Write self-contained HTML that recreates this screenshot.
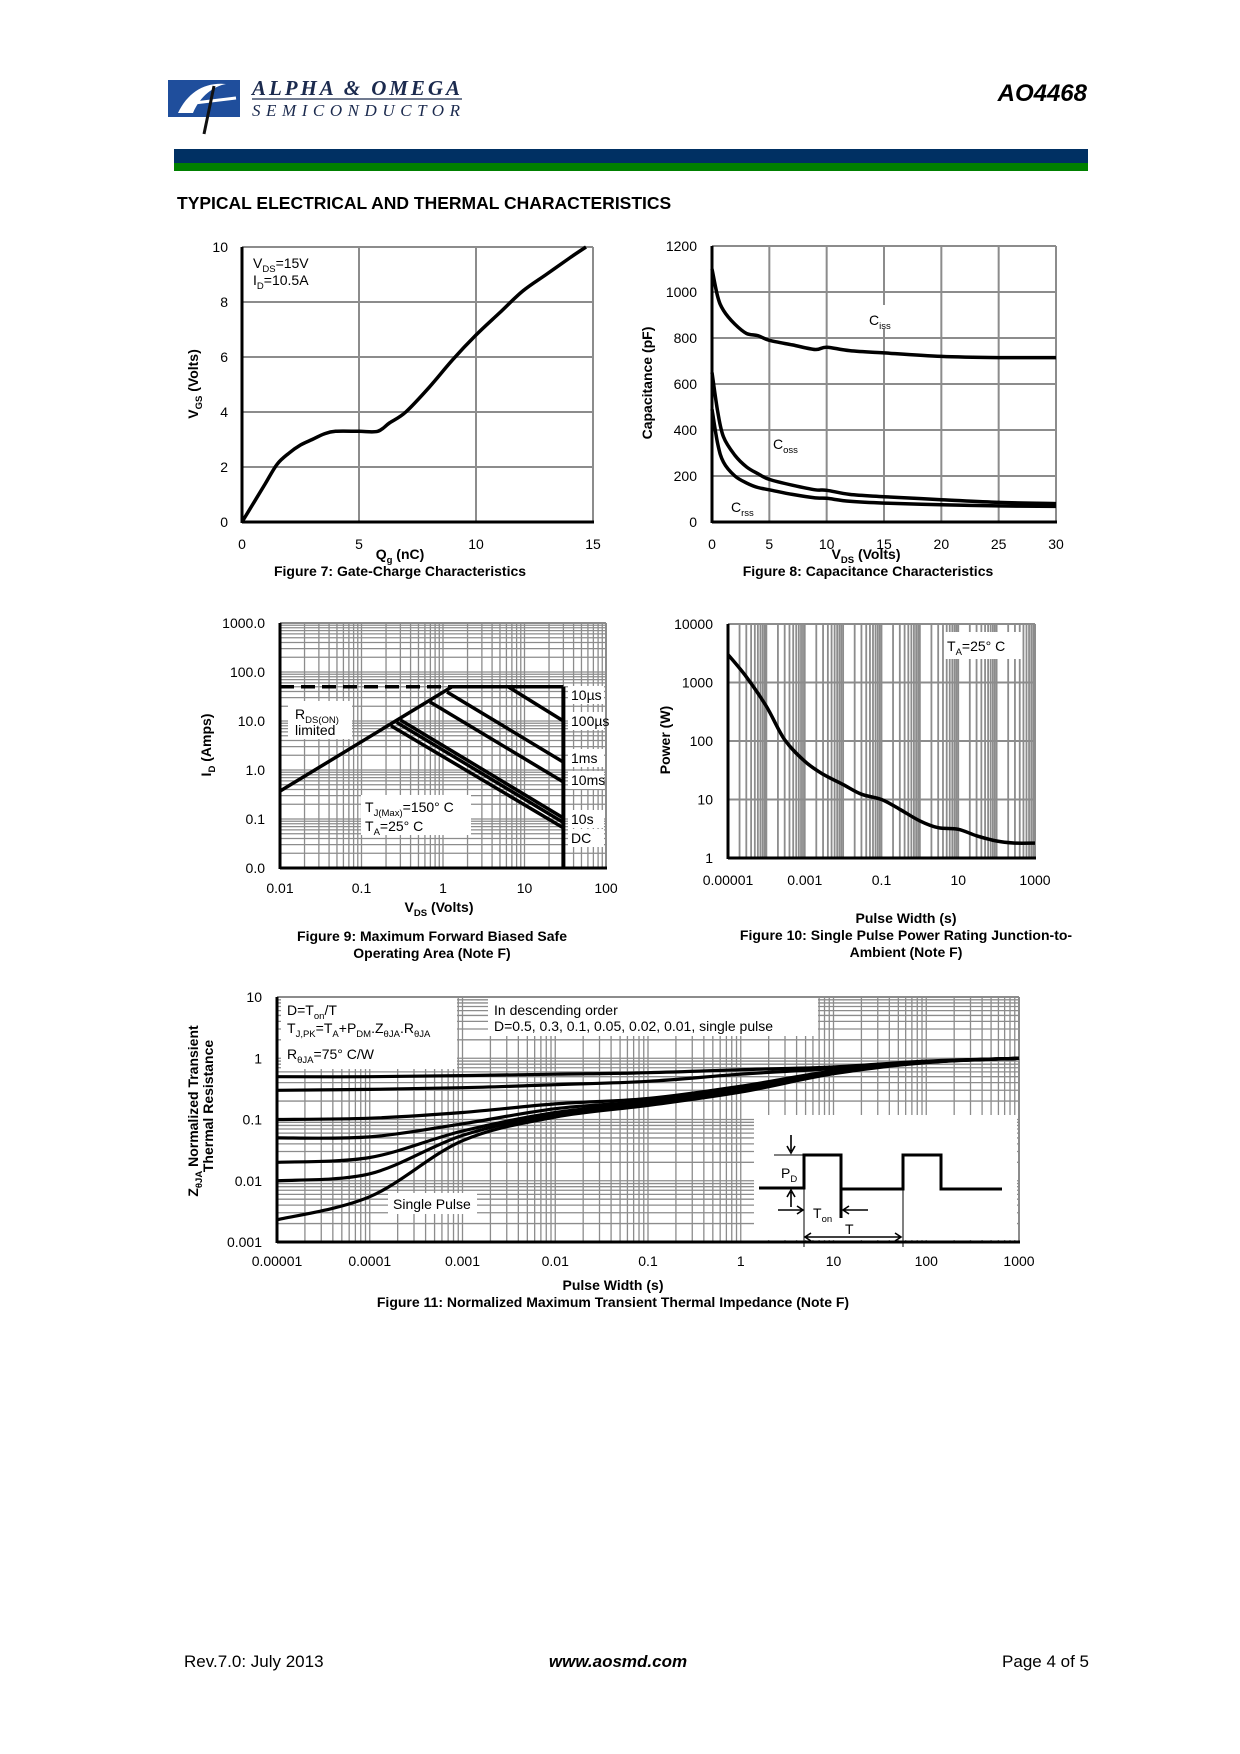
<!DOCTYPE html>
<html><head><meta charset="utf-8"><style>
html,body{margin:0;padding:0;background:#fff;}
body{width:1240px;height:1754px;position:relative;overflow:hidden;font-family:"Liberation Sans",sans-serif;}
svg{position:absolute;left:0;top:0;}
</style></head><body>
<svg id="chart" width="1240" height="1754" viewBox="0 0 1240 1754" font-family="Liberation Sans, sans-serif">
<g>
<rect x="168" y="80" width="72" height="37" fill="#1f4e9c"/>
<path d="M178 113 C188 92 205 82 226 84 C214 86 200 96 193 113 Z" fill="#fff"/>
<path d="M186 104 L236 98" stroke="#fff" stroke-width="3"/>
<path d="M214 86 L204 134" stroke="#111" stroke-width="3"/>
<text x="252" y="95" font-family="Liberation Serif, serif" font-style="italic" font-weight="bold" font-size="21" fill="#1b2a4e" textLength="208">ALPHA &amp; OMEGA</text>
<line x1="252" y1="99" x2="462" y2="99" stroke="#1b2a4e" stroke-width="1.2"/>
<text x="252" y="116" font-family="Liberation Serif, serif" font-style="italic" font-size="17" fill="#1b2a4e" textLength="208">SEMICONDUCTOR</text>
</g>
<text x="1087" y="101" text-anchor="end" font-weight="bold" font-style="italic" font-size="24">AO4468</text>
<rect x="174" y="149" width="914" height="14" fill="#003063"/>
<rect x="174" y="163" width="914" height="8" fill="#008000"/>
<text x="177" y="209" font-weight="bold" font-size="17.5">TYPICAL ELECTRICAL AND THERMAL CHARACTERISTICS</text>
<text x="184" y="1667" font-size="17">Rev.7.0: July 2013</text>
<text x="618" y="1667" font-size="17" text-anchor="middle" font-weight="bold" font-style="italic">www.aosmd.com</text>
<text x="1089" y="1667" font-size="17" text-anchor="end">Page 4 of 5</text>
</svg>
<script>
// ---------- Figure 7 data ----------
const gcQg=[0,0.5,1,1.5,2,2.5,3,3.5,4,5,5.8,6.3,7,8,9,10,11,12,13,14,14.7];
const gcVgs=[0,0.7,1.4,2.1,2.5,2.8,3.0,3.2,3.3,3.3,3.3,3.6,4.0,4.9,5.9,6.8,7.6,8.4,9.0,9.6,10];
const gcXTicks=[0,5,10,15];
const gcYTicks=[0,2,4,6,8,10];
// ---------- Figure 8 data ----------
const capV=[0,0.5,1,2,3,4,5,7,9,10,12,15,20,25,30];
const capCiss=[1100,980,920,860,820,810,790,770,750,760,745,735,720,715,715];
const capCoss=[650,480,370,290,240,210,185,160,140,138,120,110,97,85,80];
const capCrss=[490,340,260,200,170,150,140,120,105,103,90,82,75,70,68];
const capXTicks=[0,5,10,15,20,25,30];
const capYTicks=[0,200,400,600,800,1000,1200];
// ---------- Figure 9 data ----------
const soaLabels=['10µs','100µs','1ms','10ms','10s','DC'];
const soaStartV=[6.3,1.12,0.69,0.30,0.27,0.23];
const soaStartI=[50,39,24.5,10.5,9.4,8];
const soaEndV=[30,30,30,30,30,30];
const soaEndI=[10,1.45,0.57,0.105,0.085,0.066];
const soaRdsV=[0.01,1.29];
const soaRdsI=[0.37,50];
const soaLimitI=[50];
const soaVmax=[30];
const soaXTicks=[0.01,0.1,1,10,100];
const soaXTickLabels=['0.01','0.1','1','10','100'];
const soaYTicks=[0.01,0.1,1,10,100,1000];
const soaYTickLabels=['0.0','0.1','1.0','10.0','100.0','1000.0'];
// ---------- Figure 10 data ----------
const pwT=[1e-5,3e-5,1e-4,3e-4,1e-3,3e-3,1e-2,3e-2,0.1,0.3,1,3,10,30,100,300,1000];
const pwP=[3000,1250,390,105,45,27,18,12.3,10,6.8,4.3,3.3,3.1,2.4,1.95,1.8,1.8];
const pwXTicks=[1e-5,1e-3,1e-1,10,1000];
const pwXTickLabels=['0.00001','0.001','0.1','10','1000'];
const pwYTicks=[1,10,100,1000,10000];
const pwYTickLabels=['1','10','100','1000','10000'];
// ---------- Figure 11 data ----------
const ztT=[1e-5,1e-4,1e-3,1e-2,0.1,1,10,100,1000];
const ztD05=[0.5,0.5,0.52,0.55,0.58,0.65,0.72,0.9,1.0];
const ztD03=[0.3,0.31,0.33,0.37,0.42,0.55,0.68,0.88,1.0];
const ztD01=[0.1,0.105,0.13,0.18,0.22,0.35,0.62,0.87,1.0];
const ztD005=[0.05,0.052,0.085,0.15,0.2,0.32,0.6,0.86,1.0];
const ztD002=[0.02,0.024,0.065,0.13,0.19,0.3,0.58,0.86,1.0];
const ztD001=[0.01,0.013,0.055,0.12,0.18,0.29,0.57,0.86,1.0];
const ztSingle=[0.0023,0.0055,0.045,0.11,0.17,0.28,0.56,0.85,1.0];
const ztXTicks=[1e-5,1e-4,1e-3,1e-2,0.1,1,10,100,1000];
const ztXTickLabels=['0.00001','0.0001','0.001','0.01','0.1','1','10','100','1000'];
const ztYTicks=[0.001,0.01,0.1,1,10];
const ztYTickLabels=['0.001','0.01','0.1','1','10'];

const NS='http://www.w3.org/2000/svg';
const svg=document.getElementById('chart');
function mk(tag,attrs,parent){const e=document.createElementNS(NS,tag);for(const k in attrs)e.setAttribute(k,attrs[k]);(parent||svg).appendChild(e);return e;}
function lin(d0,d1,p0,p1){return v=>p0+(v-d0)/(d1-d0)*(p1-p0);}
function lg(d0,d1,p0,p1){const a=Math.log10(d0),b=Math.log10(d1);return v=>p0+(Math.log10(v)-a)/(b-a)*(p1-p0);}
function smooth(pts){let d='M'+pts[0][0].toFixed(1)+' '+pts[0][1].toFixed(1);for(let i=0;i<pts.length-1;i++){const p0=pts[Math.max(0,i-1)],p1=pts[i],p2=pts[i+1],p3=pts[Math.min(pts.length-1,i+2)];const c1=[p1[0]+(p2[0]-p0[0])/6,p1[1]+(p2[1]-p0[1])/6],c2=[p2[0]-(p3[0]-p1[0])/6,p2[1]-(p3[1]-p1[1])/6];d+=' C'+c1[0].toFixed(1)+' '+c1[1].toFixed(1)+' '+c2[0].toFixed(1)+' '+c2[1].toFixed(1)+' '+p2[0].toFixed(1)+' '+p2[1].toFixed(1);}return d;}
function txt(g,x,y,s,size,anchor,weight){const t=mk('text',{x:x,y:y,'font-size':size||13,'text-anchor':anchor||'start','font-weight':weight||'normal'},g);t.textContent=s;return t;}
function rich(g,x,y,parts,size,anchor,weight){const t=mk('text',{x:x,y:y,'font-size':size,'text-anchor':anchor||'start','font-weight':weight||'normal'},g);parts.forEach(p=>{const s=mk('tspan',{},t);if(p[1]){s.setAttribute('dy',p[1]);}if(p[1]>0){s.setAttribute('font-size',size*0.68);}else{s.setAttribute('font-size',size);}s.textContent=p[0];});return t;}
function vlabel(g,x,y,parts,size){const t=rich(g,0,0,parts,size,'middle','bold');t.setAttribute('transform','translate('+x+','+y+') rotate(-90)');return t;}
function logGrid(g,xs,ys,x0,x1,y0,y1,xd,yd,xMinor,yMinor,w,yw){
  for(let e=xd[0];e<xd[1];e++){for(let k=1;k<=9;k++){if(!xMinor&&k>1)continue;const x=xs(k*Math.pow(10,e));mk('line',{x1:x,y1:y0,x2:x,y2:y1,stroke:'#8c8c8c','stroke-width':w},g);}}
  for(let e=yd[0];e<yd[1];e++){for(let k=1;k<=9;k++){if(!yMinor&&k>1)continue;const y=ys(k*Math.pow(10,e));mk('line',{x1:x0,y1:y,x2:x1,y2:y,stroke:'#8c8c8c','stroke-width':yw||w},g);}}
  mk('line',{x1:x1,y1:y0,x2:x1,y2:y1,stroke:'#8c8c8c','stroke-width':2},g);
  mk('line',{x1:x0,y1:y1,x2:x1,y2:y1,stroke:'#8c8c8c','stroke-width':2},g);
}
function axes(g,x0,x1,y0,y1){mk('line',{x1:x0,y1:y0+1,x2:x0,y2:y1,stroke:'#000','stroke-width':3},g);mk('line',{x1:x0,y1:y0,x2:x1+1,y2:y0,stroke:'#000','stroke-width':3},g);}
function whiteBox(g,x,y,w,h,name){const r=mk('rect',{x:x,y:y,width:w,height:h,fill:'#fff'},g);return r;}

// ===== Figure 7 =====
(function(){
const g=mk('g',{});


const X0=242,X1=593,Y0=522,Y1=247;
const xs=lin(0,15,X0,X1),ys=lin(0,10,Y0,Y1);
gcXTicks.forEach(v=>{mk('line',{x1:xs(v),y1:Y0,x2:xs(v),y2:Y1,stroke:'#8c8c8c','stroke-width':2},g);const t=txt(g,xs(v),549,String(v),14,'middle');});
gcYTicks.forEach(v=>{mk('line',{x1:X0,y1:ys(v),x2:X1,y2:ys(v),stroke:'#8c8c8c','stroke-width':2},g);const t=txt(g,228,ys(v)+5,String(v),14,'end');});
axes(g,X0,X1,Y0,Y1);
const p=mk('path',{d:smooth(gcQg.map((q,i)=>[xs(q),ys(gcVgs[i])])),fill:'none',stroke:'#000','stroke-width':3.5},g);


const a=rich(g,253,268,[['V'],['DS',4],['=15V',-4]],14);
const b=rich(g,253,285,[['I'],['D',4],['=10.5A',-4]],14);
const xl=rich(g,400,559,[['Q'],['g',4],[' (nC)',-4]],14,'middle','bold');
const yl=vlabel(g,198,384,[['V'],['GS',4],[' (Volts)',-4]],14);
const c=txt(g,400,576,'Figure 7: Gate-Charge Characteristics',14,'middle','bold');
})();

// ===== Figure 8 =====
(function(){
const g=mk('g',{});


const X0=712,X1=1056,Y0=522,Y1=246;
const xs=lin(0,30,X0,X1),ys=lin(0,1200,Y0,Y1);
capXTicks.forEach(v=>{mk('line',{x1:xs(v),y1:Y0,x2:xs(v),y2:Y1,stroke:'#8c8c8c','stroke-width':2},g);const t=txt(g,xs(v),549,String(v),14,'middle');});
capYTicks.forEach(v=>{mk('line',{x1:X0,y1:ys(v),x2:X1,y2:ys(v),stroke:'#8c8c8c','stroke-width':2},g);const t=txt(g,697,ys(v)+5,String(v),14,'end');});
axes(g,X0,X1,Y0,Y1);
const p1=mk('path',{d:smooth(capV.map((v,i)=>[xs(v),ys(capCiss[i])])),fill:'none',stroke:'#000','stroke-width':3.5},g);


const p2=mk('path',{d:smooth(capV.map((v,i)=>[xs(v),ys(capCoss[i])])),fill:'none',stroke:'#000','stroke-width':3.5},g);


const p3=mk('path',{d:smooth(capV.map((v,i)=>[xs(v),ys(capCrss[i])])),fill:'none',stroke:'#000','stroke-width':3.5},g);


whiteBox(g,866,305,26,24,'ciss-label-bg');
const l1=rich(g,869,325,[['C'],['iss',4]],14);
const l2=rich(g,773,449,[['C'],['oss',4]],14);
const l3=rich(g,731,512,[['C'],['rss',4]],14);
const xl=rich(g,866,559,[['V'],['DS',4],[' (Volts)',-4]],14,'middle','bold');
const yl=vlabel(g,652,383,[['Capacitance (pF)']],14);
const c=txt(g,868,576,'Figure 8: Capacitance Characteristics',14,'middle','bold');
})();

// ===== Figure 9 =====
(function(){
const g=mk('g',{});


const X0=280,X1=606,Y0=868,Y1=623;
const xs=lg(0.01,100,X0,X1),ys=lg(0.01,1000,Y0,Y1);
logGrid(g,xs,ys,X0,X1,Y0,Y1,[-2,2],[-2,3],true,true,1.3);
soaXTicks.forEach((v,i)=>{const t=txt(g,xs(v),893,soaXTickLabels[i],14,'middle');});
soaYTicks.forEach((v,i)=>{const t=txt(g,265,ys(v)+5,soaYTickLabels[i],14,'end');});
whiteBox(g,288,701,64,38,'rdson-label-bg');
whiteBox(g,361,795,110,40,'temperature-label-bg');
const lblY=[700,726,763,785,824,843];
soaLabels.forEach((s,i)=>{whiteBox(g,568,lblY[i]-14,36,18,'soa-label-bg');});
axes(g,X0,X1,Y0,Y1);
const lim=mk('line',{x1:xs(0.01),y1:ys(soaLimitI[0]),x2:xs(soaRdsV[1]),y2:ys(soaLimitI[0]),stroke:'#000','stroke-width':3.5,'stroke-dasharray':'14,7'},g);


const top=mk('line',{x1:xs(soaRdsV[1]),y1:ys(soaLimitI[0]),x2:xs(soaVmax[0]),y2:ys(soaLimitI[0]),stroke:'#000','stroke-width':3.5},g);


const vm=mk('line',{x1:xs(soaVmax[0]),y1:ys(soaLimitI[0]),x2:xs(soaVmax[0]),y2:Y0,stroke:'#000','stroke-width':4},g);


const rl=mk('line',{x1:xs(soaRdsV[0]),y1:ys(soaRdsI[0]),x2:xs(soaRdsV[1]),y2:ys(soaRdsI[1]),stroke:'#000','stroke-width':3.5},g);


soaLabels.forEach((s,i)=>{
 const l=mk('line',{x1:xs(soaStartV[i]),y1:ys(soaStartI[i]),x2:xs(soaEndV[i]),y2:ys(soaEndI[i]),stroke:'#000','stroke-width':3.5},g);
 
 
 const t=txt(g,571,lblY[i],s,14);
 
 
});
const r1=rich(g,295,719,[['R'],['DS(ON)',4]],14);
const r2=txt(g,295,735,'limited',14);
const t1=rich(g,365,812,[['T'],['J(Max)',4],['=150° C',-4]],14);
const t2=rich(g,365,831,[['T'],['A',4],['=25° C',-4]],14);
const xl=rich(g,439,912,[['V'],['DS',4],[' (Volts)',-4]],14,'middle','bold');
const yl=vlabel(g,211,745,[['I'],['D',4],[' (Amps)',-4]],14);
const c1=txt(g,432,941,'Figure 9: Maximum Forward Biased Safe',14,'middle','bold');
const c2=txt(g,432,958,'Operating Area (Note F)',14,'middle','bold');
})();

// ===== Figure 10 =====
(function(){
const g=mk('g',{});


const X0=728,X1=1035,Y0=858,Y1=624;
const xs=lg(1e-5,1000,X0,X1),ys=lg(1,10000,Y0,Y1);
logGrid(g,xs,ys,X0,X1,Y0,Y1,[-5,3],[0,4],true,false,1.8,2);
pwXTicks.forEach((v,i)=>{const t=txt(g,xs(v),885,pwXTickLabels[i],14,'middle');});
pwYTicks.forEach((v,i)=>{const t=txt(g,713,ys(v)+5,pwYTickLabels[i],14,'end');});
whiteBox(g,944,632,78,27,'ta-label-bg');
axes(g,X0,X1,Y0,Y1);
const p=mk('path',{d:smooth(pwT.map((t,i)=>[xs(t),ys(pwP[i])])),fill:'none',stroke:'#000','stroke-width':3.5},g);


const ta=rich(g,947,651,[['T'],['A',4],['=25° C',-4]],14);
const yl=vlabel(g,670,740,[['Power (W)']],14);
const xl=txt(g,906,923,'Pulse Width (s)',14,'middle','bold');
const c1=txt(g,906,940,'Figure 10: Single Pulse Power Rating Junction-to-',14,'middle','bold');
const c2=txt(g,906,957,'Ambient (Note F)',14,'middle','bold');
})();

// ===== Figure 11 =====
(function(){
const g=mk('g',{});


const X0=277,X1=1019,Y0=1242,Y1=997;
const xs=lg(1e-5,1000,X0,X1),ys=lg(0.001,10,Y0,Y1);
logGrid(g,xs,ys,X0,X1,Y0,Y1,[-5,3],[-3,1],true,true,1.3);
ztXTicks.forEach((v,i)=>{const t=txt(g,xs(v),1266,ztXTickLabels[i],14,'middle');});
ztYTicks.forEach((v,i)=>{const t=txt(g,262,ys(v)+5,ztYTickLabels[i],14,'end');});
whiteBox(g,281,998,176,71,'formula-box-bg');
whiteBox(g,488,998,330,38,'order-box-bg');
whiteBox(g,388,1193,89,21,'single-pulse-label-bg');
whiteBox(g,754,1115,263,125,'pulse-diagram-bg');
axes(g,X0,X1,Y0,Y1);
const series=[ztD05,ztD03,ztD01,ztD005,ztD002,ztD001,ztSingle];
const names=['d-0.5','d-0.3','d-0.1','d-0.05','d-0.02','d-0.01','single-pulse'];
series.forEach((s,j)=>{
 const p=mk('path',{d:smooth(ztT.map((t,i)=>[xs(t),ys(s[i])])),fill:'none',stroke:'#000','stroke-width':3.2},g);
 
 
});
const f1=rich(g,287,1015,[['D=T'],['on',4],['/T',-4]],14);
const f2=rich(g,287,1033,[['T'],['J,PK',4],['=T',-4],['A',4],['+P',-4],['DM',4],['.Z',-4],['θJA',4],['.R',-4],['θJA',4]],14);
const f3=rich(g,287,1059,[['R'],['θJA',4],['=75° C/W',-4]],14);
const o1=txt(g,494,1015,'In descending order',14);
const o2=txt(g,494,1031,'D=0.5, 0.3, 0.1, 0.05, 0.02, 0.01, single pulse',14);
const sp=txt(g,393,1209,'Single Pulse',14);
const pd=mk('g',{},g);


mk('path',{d:'M759 1188 H804 V1155 H841 V1189 H903 V1155 H941 V1189 H1002',fill:'none',stroke:'#000','stroke-width':3},pd);
mk('line',{x1:841,y1:1189,x2:841,y2:1218,stroke:'#000','stroke-width':3},pd);
mk('line',{x1:774,y1:1155,x2:804,y2:1155,stroke:'#000','stroke-width':1},pd);
mk('line',{x1:804,y1:1155,x2:804,y2:1247,stroke:'#000','stroke-width':1},pd);
mk('line',{x1:903,y1:1189,x2:903,y2:1247,stroke:'#000','stroke-width':1},pd);
mk('path',{d:'M791 1135 V1151 M787 1146 L791 1153 L795 1146',fill:'none',stroke:'#000','stroke-width':1.6},pd);
mk('path',{d:'M791 1207 V1192 M787 1197 L791 1190 L795 1197',fill:'none',stroke:'#000','stroke-width':1.6},pd);
mk('path',{d:'M778 1210 H802 M797 1206 L803 1210 L797 1214',fill:'none',stroke:'#000','stroke-width':1.6},pd);
mk('path',{d:'M868 1210 H844 M849 1206 L843 1210 L849 1214',fill:'none',stroke:'#000','stroke-width':1.6},pd);
mk('path',{d:'M806 1237 H900 M811 1233 L805 1237 L811 1241 M895 1233 L901 1237 L895 1241',fill:'none',stroke:'#000','stroke-width':1.6},pd);
rich(pd,781,1178,[['P'],['D',4]],14);
rich(pd,813,1218,[['T'],['on',4]],14);
txt(pd,845,1234,'T',14);
const xl=txt(g,613,1290,'Pulse Width (s)',14,'middle','bold');
const yl1=vlabel(g,198,1111,[['Z'],['θJA',4],[' Normalized Transient',-4]],14);
const yl2=vlabel(g,213,1106,[['Thermal Resistance']],14);
const c=txt(g,613,1307,'Figure 11: Normalized Maximum Transient Thermal Impedance (Note F)',14,'middle','bold');
})();
</script>
</body></html>
